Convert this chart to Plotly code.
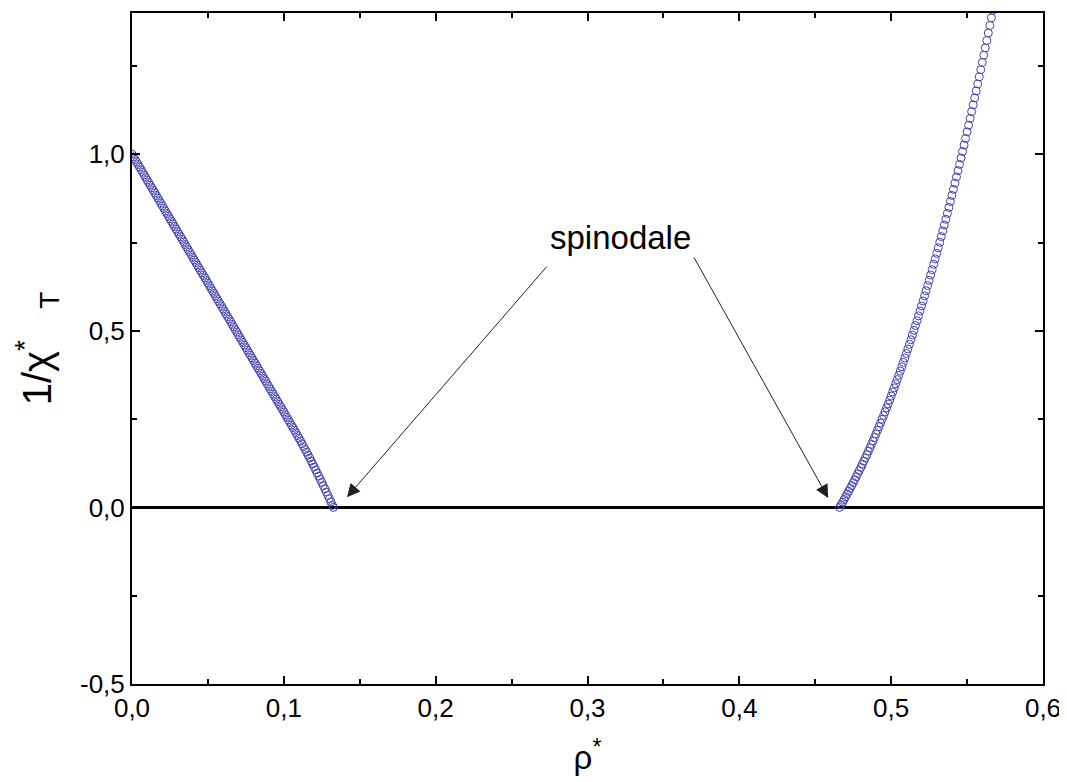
import plotly.graph_objects as go

# ---- data ----
rho_left = [
    0.000, 0.001, 0.002, 0.003, 0.004, 0.005, 0.006, 0.007, 0.008, 0.009,
    0.010, 0.011, 0.012, 0.013, 0.014, 0.015, 0.016, 0.017, 0.018, 0.019,
    0.020, 0.021, 0.022, 0.023, 0.024, 0.025, 0.026, 0.027, 0.028, 0.029,
    0.030, 0.031, 0.032, 0.033, 0.034, 0.035, 0.036, 0.037, 0.038, 0.039,
    0.040, 0.041, 0.042, 0.043, 0.044, 0.045, 0.046, 0.047, 0.048, 0.049,
    0.050, 0.051, 0.052, 0.053, 0.054, 0.055, 0.056, 0.057, 0.058, 0.059,
    0.060, 0.061, 0.062, 0.063, 0.064, 0.065, 0.066, 0.067, 0.068, 0.069,
    0.070, 0.071, 0.072, 0.073, 0.074, 0.075, 0.076, 0.077, 0.078, 0.079,
    0.080, 0.081, 0.082, 0.083, 0.084, 0.085, 0.086, 0.087, 0.088, 0.089,
    0.090, 0.091, 0.092, 0.093, 0.094, 0.095, 0.096, 0.097, 0.098, 0.099,
    0.100, 0.101, 0.102, 0.103, 0.104, 0.105, 0.106, 0.107, 0.108, 0.109,
    0.110, 0.111, 0.112, 0.113, 0.114, 0.115, 0.116, 0.117, 0.118, 0.119,
    0.120, 0.121, 0.122, 0.123, 0.124, 0.125, 0.126, 0.127, 0.128, 0.129,
    0.130, 0.131, 0.132, 0.1326,
]
inv_chi_left = [
    1.0000, 0.9927, 0.9854, 0.9781, 0.9708, 0.9635, 0.9562, 0.9489, 0.9416, 0.9343,
    0.9270, 0.9197, 0.9124, 0.9051, 0.8978, 0.8905, 0.8832, 0.8759, 0.8686, 0.8613,
    0.8540, 0.8467, 0.8394, 0.8321, 0.8248, 0.8175, 0.8102, 0.8029, 0.7956, 0.7883,
    0.7810, 0.7737, 0.7664, 0.7591, 0.7518, 0.7445, 0.7372, 0.7299, 0.7226, 0.7153,
    0.7080, 0.7007, 0.6934, 0.6861, 0.6788, 0.6715, 0.6642, 0.6569, 0.6496, 0.6423,
    0.6350, 0.6277, 0.6204, 0.6131, 0.6058, 0.5985, 0.5912, 0.5839, 0.5766, 0.5693,
    0.5620, 0.5547, 0.5474, 0.5401, 0.5328, 0.5255, 0.5182, 0.5109, 0.5036, 0.4963,
    0.4890, 0.4817, 0.4744, 0.4671, 0.4598, 0.4525, 0.4452, 0.4379, 0.4306, 0.4233,
    0.4160, 0.4087, 0.4014, 0.3941, 0.3868, 0.3795, 0.3722, 0.3649, 0.3576, 0.3503,
    0.3430, 0.3357, 0.3284, 0.3211, 0.3138, 0.3065, 0.2992, 0.2919, 0.2846, 0.2773,
    0.2700, 0.2627, 0.2554, 0.2481, 0.2408, 0.2335, 0.2262, 0.2187, 0.2112, 0.2036,
    0.1960, 0.1882, 0.1803, 0.1724, 0.1644, 0.1563, 0.1481, 0.1399, 0.1315, 0.1231,
    0.1146, 0.1059, 0.0973, 0.0885, 0.0796, 0.0707, 0.0617, 0.0526, 0.0434, 0.0341,
    0.0248, 0.0153, 0.0058, 0.0000,
]

rho_right = [
    0.466, 0.467, 0.468, 0.469, 0.470, 0.471, 0.472, 0.473, 0.474, 0.475,
    0.476, 0.477, 0.478, 0.479, 0.480, 0.481, 0.482, 0.483, 0.484, 0.485,
    0.486, 0.487, 0.488, 0.489, 0.490, 0.491, 0.492, 0.493, 0.494, 0.495,
    0.496, 0.497, 0.498, 0.499, 0.500, 0.501, 0.502, 0.503, 0.504, 0.505,
    0.506, 0.507, 0.508, 0.509, 0.510, 0.511, 0.512, 0.513, 0.514, 0.515,
    0.516, 0.517, 0.518, 0.519, 0.520, 0.521, 0.522, 0.523, 0.524, 0.525,
    0.526, 0.527, 0.528, 0.529, 0.530, 0.531, 0.532, 0.533, 0.534, 0.535,
    0.536, 0.537, 0.538, 0.539, 0.540, 0.541, 0.542, 0.543, 0.544, 0.545,
    0.546, 0.547, 0.548, 0.549, 0.550, 0.551, 0.552, 0.553, 0.554, 0.555,
    0.556, 0.557, 0.558, 0.559, 0.560, 0.561, 0.562, 0.563, 0.564, 0.565,
    0.566, 0.567, 0.568,
]
inv_chi_right = [
    0.0000, 0.0074, 0.0148, 0.0224, 0.0301, 0.0379, 0.0458, 0.0538, 0.0619, 0.0702,
    0.0785, 0.0870, 0.0956, 0.1043, 0.1131, 0.1221, 0.1312, 0.1403, 0.1496, 0.1591,
    0.1686, 0.1783, 0.1881, 0.1980, 0.2080, 0.2182, 0.2285, 0.2389, 0.2495, 0.2601,
    0.2709, 0.2819, 0.2929, 0.3041, 0.3154, 0.3269, 0.3385, 0.3502, 0.3620, 0.3740,
    0.3861, 0.3984, 0.4108, 0.4233, 0.4360, 0.4488, 0.4617, 0.4748, 0.4881, 0.5014,
    0.5149, 0.5286, 0.5424, 0.5563, 0.5704, 0.5846, 0.5990, 0.6135, 0.6282, 0.6430,
    0.6580, 0.6731, 0.6884, 0.7038, 0.7193, 0.7351, 0.7509, 0.7669, 0.7831, 0.7995,
    0.8159, 0.8326, 0.8494, 0.8663, 0.8835, 0.9007, 0.9182, 0.9358, 0.9535, 0.9714,
    0.9895, 1.0077, 1.0261, 1.0447, 1.0634, 1.0823, 1.1014, 1.1206, 1.1400, 1.1596,
    1.1793, 1.1992, 1.2193, 1.2395, 1.2600, 1.2806, 1.3013, 1.3222, 1.3434, 1.3646,
    1.3861, 1.4077, 1.4296,
]

x_tick_vals = [0.0, 0.1, 0.2, 0.3, 0.4, 0.5, 0.6]
x_tick_text = ["0,0", "0,1", "0,2", "0,3", "0,4", "0,5", "0,6"]
y_tick_vals = [-0.5, 0.0, 0.5, 1.0]
y_tick_text = ["-0,5", "0,0", "0,5", "1,0"]

annotation_text = "spinodale"
annotation_pos = (0.3215, 0.763)
arrow_tails = [(0.274, 0.686), (0.3696, 0.712)]
arrow_tips = [(0.1416, 0.029), (0.4585, 0.027)]

FONT = "Arial, 'Liberation Sans', Helvetica, sans-serif"
MARKER_COLOR = "#4242aa"

fig = go.Figure()

# zero line
fig.add_shape(type="line", x0=0, x1=0.6, y0=0, y1=0, xref="x", yref="y",
              line=dict(color="black", width=3), layer="below")

marker = dict(symbol="circle-open", size=8, color=MARKER_COLOR,
              line=dict(width=1, color=MARKER_COLOR))
fig.add_trace(go.Scatter(x=rho_left, y=inv_chi_left, mode="markers",
                         marker=marker, showlegend=False))
fig.add_trace(go.Scatter(x=rho_right, y=inv_chi_right, mode="markers",
                         marker=marker, showlegend=False))

fig.add_annotation(x=annotation_pos[0], y=annotation_pos[1], xref="x", yref="y",
                   text=annotation_text, showarrow=False,
                   font=dict(family=FONT, size=33, color="black"))
for (tx, ty), (hx, hy) in zip(arrow_tails, arrow_tips):
    fig.add_annotation(x=hx, y=hy, ax=tx, ay=ty, xref="x", yref="y",
                       axref="x", ayref="y", text="", showarrow=True,
                       arrowhead=2, arrowsize=2.6, arrowwidth=1,
                       arrowcolor="#222222")

axis_common = dict(
    showline=True, linecolor="black", linewidth=2, mirror="allticks",
    ticks="inside", ticklen=8, tickwidth=2, tickcolor="black",
    showgrid=False, zeroline=False, automargin=False,
    tickfont=dict(family=FONT, size=26, color="black"),
)

fig.update_xaxes(
    range=[0, 0.6], tickvals=x_tick_vals, ticktext=x_tick_text,
    minor=dict(ticks="inside", ticklen=5, tickwidth=2, tickcolor="black",
               dtick=0.05, showgrid=False),
    title=dict(text="ρ<sup>*</sup>", font=dict(family=FONT, size=33, color="black"),
               standoff=24),
    **axis_common,
)
fig.update_yaxes(
    range=[-0.5, 1.4], tickvals=y_tick_vals, ticktext=y_tick_text,
    minor=dict(ticks="inside", ticklen=5, tickwidth=2, tickcolor="black",
               dtick=0.25, showgrid=False),
    title=dict(text="1/χ<sup>*</sup><sub>&nbsp;&nbsp;&nbsp;&nbsp;T</sub>",
               font=dict(family=FONT, size=40, color="black"), standoff=16),
    **axis_common,
)

# the page body adds an 8 px offset; margins compensate so the plot frame
# lands at x 132..1043, y 13..684 in the browser window
fig.update_layout(
    width=1067, height=782,
    margin=dict(l=124, r=32, t=5, b=106),
    paper_bgcolor="white", plot_bgcolor="white",
    font=dict(family=FONT, color="black"),
)

fig.write_html("out.html")
